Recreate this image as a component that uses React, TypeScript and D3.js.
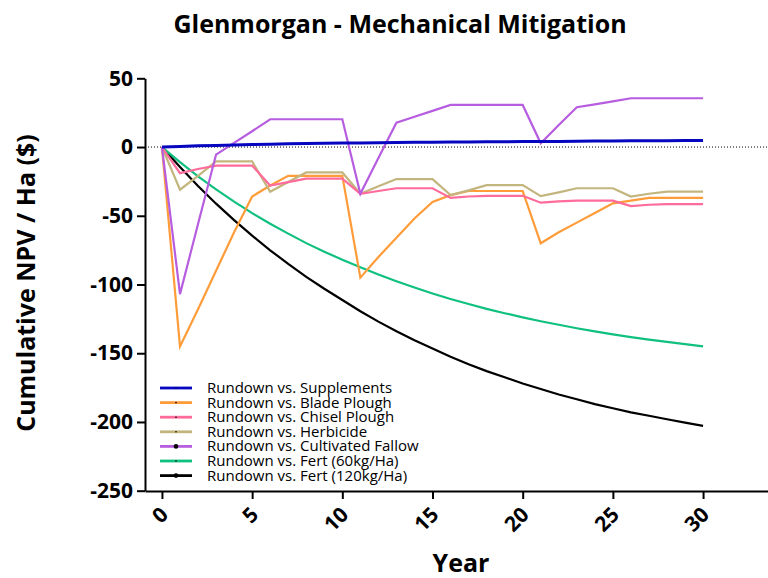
import * as d3 from "d3";
import { useEffect, useRef } from "react";

const years = [0, 1, 2, 3, 4, 5, 6, 7, 8, 9, 10, 11, 12, 13, 14, 15, 16, 17, 18, 19, 20, 21, 22, 23, 24, 25, 26, 27, 28, 29, 30];

const supplements = [0, 0.45, 0.85, 1.2, 1.5, 1.8, 2.05, 2.3, 2.5, 2.7, 2.85, 3.0, 3.15, 3.3, 3.4, 3.5, 3.6, 3.7, 3.8, 3.9, 4.0, 4.05, 4.1, 4.2, 4.3, 4.4, 4.5, 4.55, 4.6, 4.7, 4.8];
const bladePlough = [0, -145, -118, -90, -62, -36, -28, -21, -21, -21, -21, -95, -80, -66, -52, -40, -35, -32, -32, -32, -32, -70, -62, -55, -48, -41, -39, -37, -37, -37, -37];
const chiselPlough = [0, -19, -16, -13.5, -13.5, -13.5, -28, -25.5, -23, -23, -23, -34, -32, -30, -30, -30, -37, -36, -35.5, -35.5, -35.5, -40.5, -39.5, -39, -39, -39, -43, -42, -41.5, -41.5, -41.5];
const herbicide = [0, -31, -21, -10.5, -10.5, -10.5, -32.5, -25.5, -18.5, -18.5, -18.5, -34, -28.5, -23.3, -23.3, -23.3, -35, -31.5, -27.7, -27.7, -27.7, -35.7, -33, -30, -30, -30, -36, -34, -32.5, -32.5, -32.5];
const cultivatedFallow = [0, -107, -56, -5.5, 3, 11.5, 20.2, 20.2, 20.2, 20.2, 20.2, -34, -8, 17.7, 22, 26.3, 30.6, 30.6, 30.6, 30.6, 30.6, 2.7, 16, 29, 31, 33.2, 35.5, 35.5, 35.5, 35.5, 35.5];
const fert60 = [0, -11, -21.3, -30.8, -39.7, -48.1, -55.8, -63, -69.9, -76.1, -82, -87.4, -92.7, -97.6, -102.2, -106.5, -110.5, -114.2, -117.7, -120.9, -123.9, -126.7, -129.3, -131.8, -134.1, -136.3, -138.3, -140.1, -141.8, -143.4, -145];
const fert120 = [0, -14.6, -28.3, -41.2, -53.2, -64.5, -75.1, -85, -94.4, -103.1, -111.3, -119.5, -127, -134, -140.5, -146.5, -152.5, -158, -163, -167.5, -172, -176, -180, -183.5, -187, -190, -193, -195.5, -198, -200.5, -202.8];

const seriesNames = [
    "Rundown vs. Supplements",
    "Rundown vs. Blade Plough",
    "Rundown vs. Chisel Plough",
    "Rundown vs. Herbicide",
    "Rundown vs. Cultivated Fallow",
    "Rundown vs. Fert (60kg/Ha)",
    "Rundown vs. Fert (120kg/Ha)",
];
const seriesValues = [supplements, bladePlough, chiselPlough, herbicide, cultivatedFallow, fert60, fert120];
const seriesColors = ["#0606c0", "#ff9c3a", "#ff6b9a", "#c3b57e", "#b75de0", "#10c07f", "#000000"];

const xTicks = [0, 5, 10, 15, 20, 25, 30];
const yTicks = [50, 0, -50, -100, -150, -200, -250];

const font = "'Open Sans', Lato, sans-serif";

export default function App() {
    const svgRef = useRef<SVGSVGElement>(null);
    const width = 768;
    const height = 578;

    useEffect(() => {
        if (svgRef.current) {
            drawChart();
        }
    }, [svgRef]);

    const drawChart = () => {
        const svg = d3.select(svgRef.current);
        svg.selectAll("*").remove();

        const scaleX = d3.scaleLinear().domain([-0.94, 33.6]).range([145, 768]);
        const scaleY = d3.scaleLinear().domain([-250, 50]).range([490.7, 78.3]);

        // title
        svg.append("text")
            .attr("x", 400)
            .attr("y", 33)
            .attr("text-anchor", "middle")
            .style("font-family", font)
            .style("font-weight", "bold")
            .style("font-size", "25px")
            .text("Glenmorgan - Mechanical Mitigation");

        // dotted zero line
        svg.append("line")
            .attr("x1", scaleX(-0.94))
            .attr("x2", scaleX(33.6))
            .attr("y1", scaleY(0))
            .attr("y2", scaleY(0))
            .attr("stroke", "#000")
            .attr("stroke-width", 1)
            .attr("stroke-dasharray", "1,2");

        // y axis
        const yAxis = svg.append("g")
            .attr("transform", "translate(145,0)")
            .call(d3.axisLeft(scaleY).tickValues(yTicks).tickSize(8).tickSizeOuter(0).tickPadding(4).tickFormat((d) => `${d}`));
        yAxis.selectAll("path, line").attr("stroke", "#000").attr("stroke-width", 2);
        yAxis.selectAll("text")
            .attr("fill", "#000")
            .style("font-family", font)
            .style("font-weight", "bold")
            .style("font-size", "21px");

        // x axis
        const xAxis = svg.append("g")
            .attr("transform", "translate(0,491)")
            .call(d3.axisBottom(scaleX).tickValues(xTicks).tickSize(8).tickSizeOuter(0).tickFormat((d) => `${d}`));
        xAxis.selectAll("path, line").attr("stroke", "#000").attr("stroke-width", 2);
        xAxis.selectAll("text")
            .attr("fill", "#000")
            .attr("x", 7)
            .attr("y", 25)
            .attr("dy", 0)
            .attr("text-anchor", "end")
            .attr("transform", "rotate(-45, 7, 25)")
            .style("font-family", font)
            .style("font-weight", "bold")
            .style("font-size", "21px");

        // axis titles
        svg.append("text")
            .attr("transform", "translate(35,283) rotate(-90)")
            .attr("text-anchor", "middle")
            .style("font-family", font)
            .style("font-weight", "bold")
            .style("font-size", "25px")
            .text("Cumulative NPV / Ha ($)");

        svg.append("text")
            .attr("x", 461)
            .attr("y", 572)
            .attr("text-anchor", "middle")
            .style("font-family", font)
            .style("font-weight", "bold")
            .style("font-size", "25px")
            .text("Year");

        // lines
        const line = d3.line<number>()
            .x((_, i) => scaleX(years[i]))
            .y((d) => scaleY(d));
        const order = [6, 5, 1, 3, 2, 4, 0];
        for (const s of order) {
            svg.append("path")
                .datum(seriesValues[s])
                .attr("d", line)
                .attr("fill", "none")
                .attr("stroke", seriesColors[s])
                .attr("stroke-width", s === 0 ? 3 : 2.2)
                .attr("stroke-linejoin", "miter");
        }

        // legend
        const legend = svg.append("g").attr("transform", "translate(160,388)");
        for (let i = 0; i < seriesNames.length; i++) {
            const row = legend.append("g").attr("transform", "translate(0," + i * 14.6 + ")");
            row.append("line")
                .attr("x1", 0)
                .attr("x2", 32)
                .attr("stroke", seriesColors[i])
                .attr("stroke-width", 2.8);
            row.append("circle")
                .attr("cx", 16)
                .attr("r", i === 4 || i === 6 ? 2.3 : 0.8)
                .attr("fill", i === 0 ? "#000066" : "#000");
            row.append("text")
                .attr("x", 47)
                .attr("y", 5)
                .style("font-family", font)
                .style("font-size", "15px")
                .attr("fill", "#000")
                .text(seriesNames[i]);
        }
    };

    return <svg ref={svgRef} width={width} height={height} style={{ position: "absolute", left: 0, top: 0, background: "#fff" }} />;
}
